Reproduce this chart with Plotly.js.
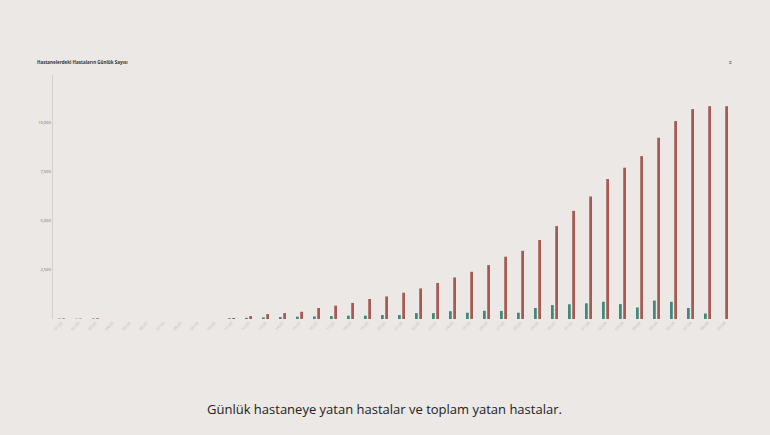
<!DOCTYPE html>
<html>
<head>
<meta charset="utf-8">
<script src="https://cdn.plot.ly/plotly-3.0.1.min.js"></script>
<style>html,body{margin:0;padding:0;background:#ebe8e6;}#chart{width:770px;height:435px;}</style>
</head>
<body>
<div id="chart"></div>
<script>
const dates = [
  "01.03","02.03","03.03","04.03","05.03","06.03","07.03","08.03","09.03","10.03",
  "11.03","12.03","13.03","14.03","15.03","16.03","17.03","18.03","19.03","20.03",
  "21.03","22.03","23.03","24.03","25.03","26.03","27.03","28.03","29.03","30.03",
  "31.03","01.04","02.04","03.04","04.04","05.04","06.04","07.04","08.04","09.04"
];
const dailyHospitalized = [
  20, 15, 25, null, null, null, null, null, null, null,
  40, 60, 80, 100, 120, 130, 150, 170, 170, 200,
  200, 300, 300, 400, 320, 420, 410, 320, 560, 710,
  750, 800, 880, 760, 590, 940, 880, 560, 280, null
];
const totalHospitalized = [
  30, 20, 35, null, null, null, null, null, null, null,
  50, 150, 250, 300, 370, 560, 680, 820, 1020, 1150,
  1340, 1560, 1840, 2120, 2410, 2750, 3180, 3480, 4030, 4740,
  5520, 6250, 7140, 7720, 8310, 9250, 10100, 10710, 10860, 10860
];
const yTicks = [2500, 5000, 7500, 10000];
const yTickText = ["2,500", "5,000", "7,500", "10,000"];

const traces = [
  {type: "bar", name: "Günlük", x: dates, y: dailyHospitalized, marker: {color: "#3f8a7a"}},
  {type: "bar", name: "Toplam", x: dates, y: totalHospitalized, marker: {color: "#a65a52"}}
];
const layout = {
  width: 770, height: 435,
  margin: {l: 53, r: 37, t: 75, b: 116},
  paper_bgcolor: "#ebe8e6", plot_bgcolor: "#ebe8e6",
  showlegend: false,
  barmode: "group", bargap: 0.5, bargroupgap: 0.35,
  font: {family: "Open Sans, sans-serif", color: "#555"},
  xaxis: {type: "category", showgrid: false, zeroline: false, showline: false,
          tickangle: -45, tickfont: {size: 4, color: "#bdbab8"}, ticks: ""},
  yaxis: {range: [0, 12450], showgrid: false, zeroline: false, showline: true,
          linecolor: "#d2cfcd", linewidth: 1.5, tickvals: yTicks, ticktext: yTickText,
          tickfont: {size: 4, color: "#6f6c6b"}, ticks: ""},
  annotations: [
    {text: "<b>Hastanelerdeki Hastaların Günlük Sayısı</b>", xref: "paper", yref: "paper",
     x: -0.026, y: 1.053, xanchor: "left", yanchor: "middle", showarrow: false,
     font: {size: 4.5, color: "#333"}},
    {text: "<b>≡</b>", xref: "paper", yref: "paper", x: 0.996, y: 1.053, xanchor: "center",
     yanchor: "middle", showarrow: false, font: {size: 5, color: "#444"}},
    {text: "Günlük hastaneye yatan hastalar ve toplam yatan hastalar.", xref: "paper",
     yref: "paper", x: (384 - 53) / 680, y: (319 - 409) / 244, xanchor: "center",
     yanchor: "middle", showarrow: false,
     font: {size: 13, color: "#222", family: "Open Sans, sans-serif"}}
  ]
};
Plotly.newPlot("chart", traces, layout, {displayModeBar: false, staticPlot: true});
</script>
</body>
</html>
